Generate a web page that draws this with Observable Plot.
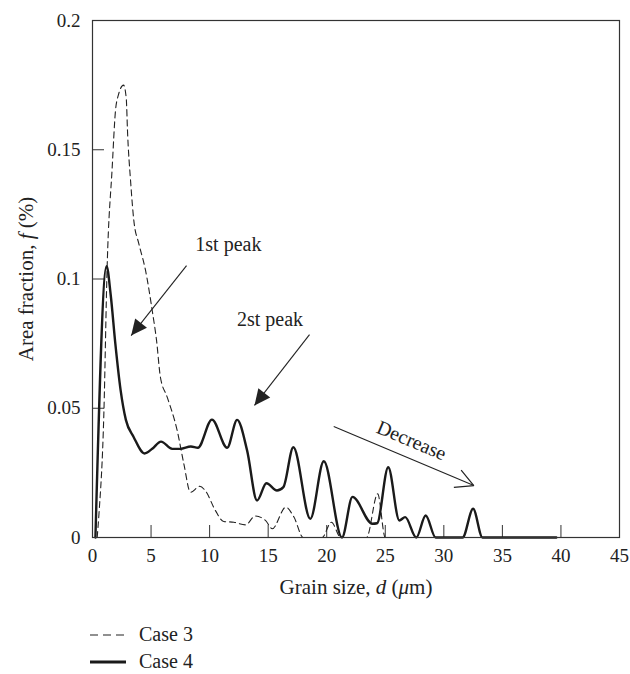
<!DOCTYPE html>
<html>
<head>
<meta charset="utf-8">
<script src="https://cdn.jsdelivr.net/npm/d3@7"></script>
<script src="https://cdn.jsdelivr.net/npm/@observablehq/plot@0.6"></script>
<style>
  body { margin: 0; background: #fff; font-family: "Liberation Serif", "Times New Roman", serif; }
  #chart { width: 630px; }
  #chart svg { display: block; }
  .legend { padding-top: 21px; }
  .row { display: flex; align-items: center; height: 27px; font-size: 20px; color: #222; }
  .row svg { margin-left: 90px; margin-right: 13px; }
</style>
</head>
<body>
<div id="chart"></div>
<script>
// Grain size distribution: area fraction f (%) against grain size d (µm)
const seriesNames = ["Case 3", "Case 4"];

// Case 3 (dashed)
const grainSize3 = [0.4, 0.55, 0.97, 1.25, 1.68, 1.96, 2.2, 2.65, 2.88, 3.0, 3.25, 3.53, 3.96, 4.53, 5.1, 5.47, 5.8, 6.38, 7.23, 7.8, 8.37, 9.16, 9.65, 10.5, 11.2, 12.07, 13.07, 13.9, 14.77, 15.35, 16.5, 17.2, 18.0, 19.6, 20.4, 21.2, 23.4, 24.35, 25.0, 33.5];
const fraction3  = [0, 0.009, 0.048, 0.1046, 0.143, 0.165, 0.171, 0.175, 0.170, 0.156, 0.138, 0.1226, 0.1136, 0.1033, 0.0878, 0.0762, 0.062, 0.0543, 0.0414, 0.0285, 0.0175, 0.0198, 0.018, 0.0104, 0.0062, 0.0059, 0.0049, 0.0083, 0.0066, 0.0034, 0.0117, 0.0079, 0, 0, 0.0059, 0, 0, 0.0169, 0, 0];

// Case 4 (solid)
const grainSize4 = [0.25, 1.2, 1.55, 1.95, 2.4, 2.85, 3.5, 4.45, 5.1, 5.85, 6.8, 7.5, 8.4, 9.0, 10.2, 11.5, 12.35, 13.2, 14.05, 14.85, 15.75, 16.3, 17.15, 18.6, 19.75, 21.3, 22.2, 23.9, 24.3, 25.25, 26.2, 26.7, 27.65, 28.45, 29.3, 31.6, 32.5, 33.3, 39.6];
const fraction4  = [0, 0.105, 0.094, 0.075, 0.057, 0.0455, 0.039, 0.0325, 0.0343, 0.0371, 0.0343, 0.0343, 0.0352, 0.0347, 0.0456, 0.0347, 0.0455, 0.0337, 0.0143, 0.021, 0.0182, 0.0195, 0.0349, 0.0072, 0.0295, 0, 0.0157, 0.0053, 0.0055, 0.0272, 0.0066, 0.0079, 0, 0.0085, 0, 0, 0.0111, 0, 0];

// Axis ticks
const xTicks = [0, 5, 10, 15, 20, 25, 30, 35, 40, 45];
const yTicks = [0, 0.05, 0.1, 0.15, 0.2];

// Annotations (in data units)
const noteText  = ["1st peak", "2st peak", "Decrease"];
const noteX     = [11.6, 15.16, 27.24];
const noteY     = [0.1135, 0.0843, 0.0375];
const noteAngle = [0, 0, 23];
const arrowX1 = [8.03, 18.53, 20.6];
const arrowY1 = [0.1052, 0.0785, 0.0429];
const arrowX2 = [3.3, 13.83, 32.56];
const arrowY2 = [0.0781, 0.0511, 0.0201];

const case3 = grainSize3.map((d, i) => ({d, f: fraction3[i]}));
const case4 = grainSize4.map((d, i) => ({d, f: fraction4[i]}));
const notes = noteText.map((t, i) => ({t, x: noteX[i], y: noteY[i], r: noteAngle[i]}));
const arrows = arrowX1.map((x1, i) => ({x1, y1: arrowY1[i], x2: arrowX2[i], y2: arrowY2[i]}));

const SVGNS = "http://www.w3.org/2000/svg";
function makeMarker(d, color, filled) {
  const m = document.createElementNS(SVGNS, "marker");
  m.setAttribute("viewBox", "-22 -12 24 24");
  m.setAttribute("markerWidth", 24);
  m.setAttribute("markerHeight", 24);
  m.setAttribute("markerUnits", "userSpaceOnUse");
  m.setAttribute("refX", 0);
  m.setAttribute("refY", 0);
  m.setAttribute("orient", "auto");
  m.setAttribute("overflow", "visible");
  const p = document.createElementNS(SVGNS, "path");
  p.setAttribute("d", d);
  if (filled) { p.setAttribute("fill", color); p.setAttribute("stroke", "none"); }
  else { p.setAttribute("fill", "none"); p.setAttribute("stroke", color); p.setAttribute("stroke-width", 1.2); }
  m.appendChild(p);
  return m;
}
const filledHead = (color) => makeMarker("M0,0L-16,-7.5L-16,7.5Z", color, true);
const openHead = (color) => makeMarker("M-17.7,-9.4L0,0L-17.7,9.4", color, false);

const serif = '"Liberation Serif", "Times New Roman", serif';
const ink = "#222";

const chart = Plot.plot({
  width: 630,
  height: 600,
  marginLeft: 92,
  marginRight: 11,
  marginTop: 20,
  marginBottom: 63,
  style: {fontFamily: serif, fontSize: "19px", color: ink, background: "#fff"},
  x: {domain: [0, 45]},
  y: {domain: [0, 0.2]},
  marks: [
    // tick labels
    Plot.axisX({ticks: xTicks, tickSize: 0, tickPadding: 11, tickFormat: (d) => String(d), label: null}),
    Plot.axisY({ticks: yTicks, tickSize: 0, tickPadding: 12, tickFormat: (d) => String(d), label: null}),
    // inward tick marks
    Plot.axisX({ticks: xTicks, tickSize: 12, dy: -12, tickFormat: () => "", label: null, stroke: "#333"}),
    Plot.axisY({ticks: yTicks, tickSize: 12, dx: 12, tickFormat: () => "", label: null, stroke: "#333"}),
    // axis titles
    Plot.text(["Grain size, d (μm)"], {frameAnchor: "bottom", dy: 50, lineAnchor: "middle", textAnchor: "middle", fontSize: 21, fill: ink}),
    Plot.text(["Area fraction, f (%)"], {frameAnchor: "left", dx: -66, rotate: -90, lineAnchor: "middle", textAnchor: "middle", fontSize: 21, fill: ink}),
    // series
    Plot.line(case3, {x: "d", y: "f", curve: "monotone-x", stroke: ink, strokeWidth: 1.1, strokeDasharray: "6,4"}),
    Plot.line(case4, {x: "d", y: "f", curve: "monotone-x", stroke: "#1a1a1a", strokeWidth: 2.4}),
    // annotation arrows
    Plot.link(arrows.slice(0, 2), {x1: "x1", y1: "y1", x2: "x2", y2: "y2", stroke: ink, strokeWidth: 1.1, markerEnd: filledHead}),
    Plot.link(arrows.slice(2), {x1: "x1", y1: "y1", x2: "x2", y2: "y2", stroke: ink, strokeWidth: 1.1, markerEnd: openHead}),
    Plot.text(notes, {x: "x", y: "y", text: "t", rotate: "r", fontSize: 20, fill: ink, lineAnchor: "middle", textAnchor: "middle"}),
    Plot.frame({stroke: "#333", strokeWidth: 1.2})
  ]
});

// italic math symbols inside the axis titles
function styleLabel(svg, full, parts) {
  svg.querySelectorAll("text").forEach((t) => {
    if (t.textContent !== full) return;
    while (t.firstChild) t.removeChild(t.firstChild);
    parts.forEach(([s, it]) => {
      const ts = document.createElementNS(SVGNS, "tspan");
      ts.textContent = s;
      if (it) ts.setAttribute("font-style", "italic");
      t.appendChild(ts);
    });
  });
}
styleLabel(chart, "Grain size, d (μm)", [["Grain size, ", false], ["d", true], [" (", false], ["μ", true], ["m)", false]]);
styleLabel(chart, "Area fraction, f (%)", [["Area fraction, ", false], ["f", true], [" (%)", false]]);

const root = document.getElementById("chart");
root.appendChild(chart);

// legend below the plot
const legend = document.createElement("div");
legend.className = "legend";
const samples = [
  '<line x1="0" y1="5" x2="34" y2="5" stroke="#222" stroke-width="1.1" stroke-dasharray="8,5"/>',
  '<line x1="0" y1="5" x2="36" y2="5" stroke="#1a1a1a" stroke-width="2.8"/>'
];
seriesNames.forEach((name, i) => {
  const row = document.createElement("div");
  row.className = "row";
  row.innerHTML = `<svg width="36" height="10">${samples[i]}</svg><span>${name}</span>`;
  legend.appendChild(row);
});
root.appendChild(legend);
</script>
</body>
</html>
